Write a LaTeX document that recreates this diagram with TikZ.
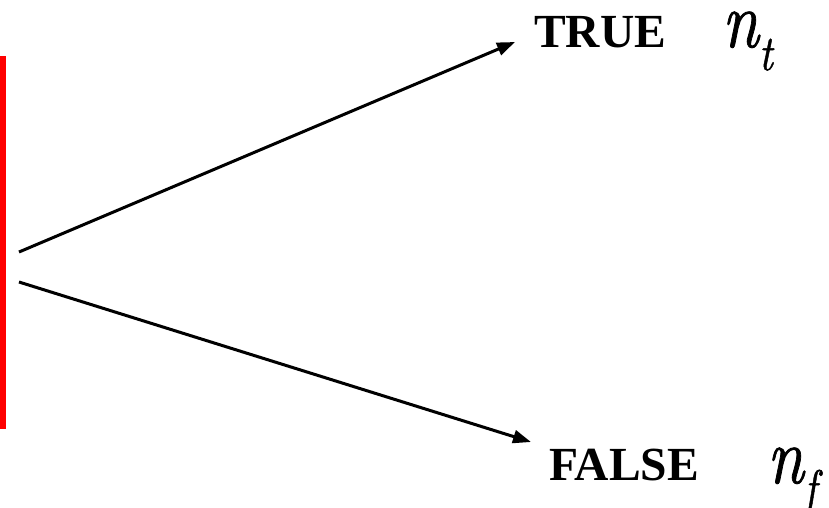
\documentclass[tikz,border=0pt]{standalone}
\usepackage{graphicx}
\usepackage{fontspec}
\setmainfont{Liberation Serif}
\newfontfamily\varfont{lmroman10-italic.otf}[FakeBold=1.1]
\usetikzlibrary{arrows.meta}
\tikzset{
  flow/.style={line width=3pt,-{Triangle[length=18pt,width=13pt]}},
  lab/.style={inner sep=0pt,anchor=base west,font=\fontsize{47.5}{47.5}\selectfont\bfseries},
  var/.style={inner sep=0pt,anchor=base west},
}
\newcommand{\bigvar}[1]{\scalebox{6.5}[8]{\varfont #1}}
\newcommand{\subvar}[1]{\scalebox{4.2}[5]{\varfont #1}}
\begin{document}
\begin{tikzpicture}[x=1pt,y=-1pt]
\useasboundingbox (0,0) rectangle (829,507);
\fill[red] (0,56) rectangle (5.5,429);
\coordinate (s1) at (19,252);
\coordinate (s2) at (19,282);
\coordinate (t1) at (515,42);
\coordinate (t2) at (531,442);
\draw[flow] (s1) -- (t1);
\draw[flow] (s2) -- (t2);
\node[lab] (true) at (534,47) {TRUE};
\node[lab] (false) at (549,480) {FALSE};
\node[var] (nt) at (722,47) {\bigvar{n}\hspace{0pt}\raisebox{-23pt}{\subvar{t}}};
\node[var] (nf) at (767,483) {\bigvar{n}\hspace{0pt}\raisebox{-22pt}{\subvar{f}}};
\end{tikzpicture}
\end{document}
